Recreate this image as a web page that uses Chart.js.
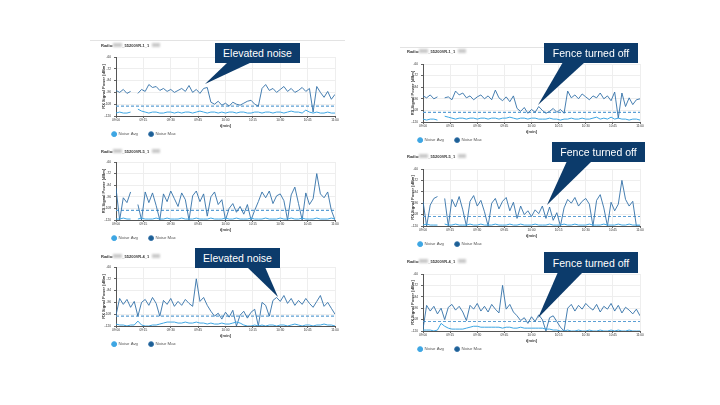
<!DOCTYPE html>
<html>
<head>
<meta charset="utf-8">
<script src="https://cdn.jsdelivr.net/npm/chart.js@4.4.1/dist/chart.umd.min.js"></script>
<style>
  body { margin: 0; width: 720px; height: 405px; background: #fff; position: relative; overflow: hidden; font-family: 'Liberation Sans', Arial, sans-serif; }
  canvas { position: absolute; }
  .topline { position: absolute; height: 0; border-top: 1px solid #e3e3e3; }
  .blur { position: absolute; height: 4px; background: #c9c9c9; filter: blur(0.8px); }
  .callout { position: absolute; background: #0c3b6b; color: #fff; font-size: 10.5px; display: flex; align-items: center; justify-content: center; z-index: 3; }
  svg.pointers { position: absolute; left: 0; top: 0; z-index: 2; }
</style>
</head>
<body>
<div class="topline" style="left:90px;top:40px;width:255px"></div>
<div class="topline" style="left:400px;top:47px;width:238px"></div>
<svg class="pointers" width="720" height="405"></svg>

<script>
// время замеров, минуты от 09:00
const minutes = [
  0, 2, 4, 6, 8, 10, 12, 14, 16, 18,
  20, 22, 24, 26, 28, 30, 32, 34, 36, 38,
  40, 42, 44, 46, 48, 50, 52, 54, 56, 58,
  60, 62, 64, 66, 68, 70, 72, 74, 76, 78,
  80, 82, 84, 86, 88, 90, 92, 94, 96, 98,
  100, 102, 104, 106, 108, 110, 112, 114, 116, 118,
  120,
];
const timeLabels = ['09:00', '09:15', '09:30', '09:45', '10:00', '10:15', '10:30', '10:45', '11:00'];
const seriesNames = ['Noise Avg', 'Noise Max'];
const noiseLimit = -110;

// левая колонка
const maxA = [
  -94, -96, -93, -97, -95, null, -97, -93, -95, -88,
  -91, -90, -94, -92, -95, -93, -96, -94, -92, -95,
  -89, -96, -93, -97, -92, -91, -106, -108, -105, -109,
  -107, -110, -106, -108, -109, -107, -105, -104, -108, -110,
  -92, -88, -94, -92, -96, -93, -90, -95, -92, -96,
  -94, -91, -95, -92, -116, -90, -96, -101, -95, -103,
  -98,
];
const avgA = [
  -117, -116, -117, -117, -116, null, -113, -115, -116, -117,
  -116, -116, -117, -117, -116, -116, -117, -116, -117, -116,
  -116, -117, -116, -115, -116, -117, -116, -116, -117, -116,
  -117, -116, -116, -117, -116, -116, -117, -117, -116, -116,
  -117, -116, -116, -117, -116, -116, -117, -116, -115, -116,
  -116, -117, -114, -116, -117, -116, -117, -117, -116, -117,
  -117,
];
const maxB = [
  -87, -120, -97, -102, -91, null, -104, -120, -91, -102,
  -92, -105, -120, -93, -101, -90, -98, -106, -92, -99,
  -120, -95, -90, -101, -93, -116, -96, -91, -104, -99,
  -120, -108, -103, -112, -106, -114, -104, -120, -110, -101,
  -91, -97, -90, -103, -95, -93, -100, -120, -94, -86,
  -103, -120, -92, -104, -98, -72, -93, -97, -91, -110,
  -120,
];
const avgB = [
  -119, -119, -118, -119, -119, null, -119, -118, -119, -119,
  -119, -118, -119, -119, -118, -119, -119, -119, -118, -119,
  -119, -119, -118, -119, -119, -119, -118, -119, -119, -119,
  -118, -119, -119, -118, -119, -119, -119, -118, -119, -119,
  -119, -118, -119, -119, -119, -118, -119, -119, -118, -119,
  -119, -118, -119, -119, -119, -118, -119, -119, -119, -118,
  -119,
];
const maxC = [
  -109, -92, -98, -93, -101, -95, -110, -96, -93, -99,
  -91, -97, -110, -94, -98, -92, -100, -95, -99, -93,
  -97, -100, -72, -95, -91, -99, -105, -110, -107, -113,
  -106, -111, -104, -120, -109, -105, -112, -106, -103, -120,
  -96, -99, -110, -94, -91, -95, -89, -97, -92, -99,
  -94, -98, -92, -97, -101, -95, -89, -100, -96, -102,
  -108,
];
const avgC = [
  -118, -119, -119, -120, -119, -119, -115, -119, -120, -120,
  -119, -119, -118, -117, -116, -116, -116, -117, -117, -116,
  -117, -117, -116, -117, -117, -118, -117, -118, -118, -117,
  -118, -118, -117, -116, -117, -119, -120, -120, -119, -120,
  -119, -120, -119, -119, -120, -119, -119, -120, -119, -118,
  -119, -120, -119, -119, -120, -119, -119, -118, -119, -119,
  -120,
];

// правая колонка
const maxD = [
  -93, -95, -92, -96, -94, null, -95, -94, -97, -88,
  -92, -90, -95, -93, -97, -94, -92, -96, -93, -97,
  -87, -95, -98, -94, -99, -93, -106, -109, -105, -111,
  -107, -110, -104, -108, -111, -109, -106, -110, -107, -111,
  -88, -95, -92, -96, -91, -94, -97, -93, -95, -90,
  -96, -93, -98, -89, -116, -90, -104, -95, -102, -97,
  -96,
];
const avgD = [
  -117, -118, -117, -117, -118, null, -114, -115, -116, -117,
  -116, -116, -117, -116, -116, -117, -116, -116, -117, -116,
  -116, -117, -116, -116, -115, -116, -117, -116, -116, -117,
  -116, -116, -117, -117, -117, -116, -117, -117, -118, -117,
  -117, -116, -117, -117, -116, -117, -117, -116, -115, -117,
  -116, -117, -115, -117, -116, -117, -117, -118, -117, -117,
  -118,
];
const maxE = [
  -94, -120, -98, -91, -89, null, -91, -120, -92, -100,
  -89, -103, -120, -94, -88, -99, -93, -105, -120, -96,
  -91, -102, -94, -90, -104, -95, -112, -99, -108, -104,
  -110, -103, -107, -99, -112, -100, -114, -106, -120, -101,
  -92, -96, -90, -99, -94, -91, -97, -120, -93, -87,
  -101, -120, -95, -104, -97, -72, -92, -99, -94, -120,
  -120,
];
const avgE = [
  -119, -118, -119, -119, -119, null, -118, -119, -119, -118,
  -119, -119, -119, -118, -119, -119, -118, -119, -119, -119,
  -118, -119, -119, -119, -118, -119, -119, -118, -119, -119,
  -119, -118, -119, -119, -119, -118, -119, -119, -119, -118,
  -119, -119, -118, -119, -119, -119, -118, -119, -119, -119,
  -118, -119, -119, -119, -118, -119, -119, -118, -119, -119,
  -119,
];
const maxF = [
  -118, -93, -99, -94, -102, -96, -108, -95, -92, -98,
  -94, -100, -109, -93, -97, -91, -99, -94, -100, -92,
  -97, -101, -72, -97, -92, -100, -104, -109, -106, -112,
  -105, -110, -103, -108, -120, -106, -104, -110, -116, -120,
  -96, -92, -99, -93, -97, -91, -95, -98, -92, -100,
  -94, -97, -91, -99, -93, -101, -95, -98, -102, -97,
  -104,
];
const avgF = [
  -119, -119, -119, -120, -119, -112, -115, -117, -118, -118,
  -118, -118, -117, -116, -115, -115, -116, -116, -116, -116,
  -116, -116, -117, -116, -116, -117, -117, -116, -117, -117,
  -117, -117, -117, -117, -118, -118, -119, -119, -120, -120,
  -119, -120, -120, -119, -120, -120, -119, -120, -120, -119,
  -120, -120, -119, -120, -119, -120, -120, -119, -120, -120,
  -120,
];

const FONT = "'Liberation Sans', Arial, sans-serif";
const LEGEND_H = 4.3 + 11 + 10;
const X_AXIS_H = 5;

const charts = [
  { radio: '_55200VR-1_1', max: maxA, avg: avgA, x0: 116, x1: 335, y0: 57, y1: 116, radioX: 101, radioY: 45, yTitlePad: 0 },
  { radio: '_55200VR-5_1', max: maxB, avg: avgB, x0: 116, x1: 335, y0: 162, y1: 220, radioX: 101, radioY: 151, yTitlePad: 0 },
  { radio: '_55200VR-4_1', max: maxC, avg: avgC, x0: 116, x1: 335, y0: 267, y1: 326, radioX: 101, radioY: 256, yTitlePad: 0 },
  { radio: '_55200VR-1_1', max: maxD, avg: avgD, x0: 423, x1: 640, y0: 64, y1: 122, radioX: 407, radioY: 51, yTitlePad: 3 },
  { radio: '_55200VR-5_1', max: maxE, avg: avgE, x0: 423, x1: 640, y0: 169, y1: 226, radioX: 407, radioY: 156, yTitlePad: 3 },
  { radio: '_55200VR-4_1', max: maxF, avg: avgF, x0: 423, x1: 640, y0: 274, y1: 331, radioX: 407, radioY: 261, yTitlePad: 3 },
];

const callouts = [
  { text: 'Elevated noise', left: 215, top: 43, width: 85, height: 20, tip: [[228, 62], [252, 62], [205, 84]] },
  { text: 'Fence turned off', left: 544, top: 43, width: 94, height: 20, tip: [[563, 62], [585, 62], [538, 105]] },
  { text: 'Fence turned off', left: 552, top: 142, width: 93, height: 20, tip: [[567, 161], [592, 161], [547, 205]] },
  { text: 'Elevated noise', left: 195, top: 248, width: 85, height: 20, tip: [[247, 267], [265, 267], [278, 297]] },
  { text: 'Fence turned off', left: 544, top: 252, width: 94, height: 21, tip: [[558, 272], [583, 272], [538, 318]] },
];

function toPoints(values) {
  return minutes.map((m, i) => ({ x: m, y: values[i] }));
}

function createChart(p) {
  const left = p.radioX;
  const top = Math.round(p.radioY - 2.4);
  const width = p.x1 + 14 - left;
  const rawHeight = p.y1 - top + X_AXIS_H + LEGEND_H;
  const height = Math.ceil(rawHeight);

  const canvas = document.createElement('canvas');
  canvas.width = width;
  canvas.height = height;
  canvas.style.left = left + 'px';
  canvas.style.top = top + 'px';
  document.body.appendChild(canvas);

  // серые "замазанные" куски имени радио
  [[12, 9], [51, 8]].forEach(([dx, w]) => {
    const b = document.createElement('div');
    b.className = 'blur';
    b.style.left = (left + dx) + 'px';
    b.style.top = (p.radioY - 2) + 'px';
    b.style.width = w + 'px';
    document.body.appendChild(b);
  });

  const tickFont = { family: FONT, size: 3.2 };
  const titleFont = { family: FONT, size: 4, weight: 'bold' };

  new Chart(canvas.getContext('2d'), {
    type: 'line',
    data: {
      datasets: [
        {
          label: seriesNames[0],
          data: toPoints(p.avg),
          borderColor: '#3ea6e3',
          backgroundColor: '#3ea6e3',
          borderWidth: 1,
        },
        {
          label: seriesNames[1],
          data: toPoints(p.max),
          borderColor: '#3271a8',
          backgroundColor: '#1d5f94',
          borderWidth: 0.9,
        },
        {
          label: 'limit',
          data: [{ x: minutes[0], y: noiseLimit }, { x: minutes[minutes.length - 1], y: noiseLimit }],
          borderColor: '#5c9fd4',
          borderWidth: 1.2,
          borderDash: [3, 2],
        },
      ],
    },
    options: {
      responsive: false,
      animation: false,
      devicePixelRatio: 1,
      layout: { padding: { left: 0, right: 0, top: 0, bottom: height - rawHeight } },
      elements: { point: { radius: 0 }, line: { tension: 0, fill: false } },
      plugins: {
        title: {
          display: true,
          text: 'Radio:        ' + p.radio,
          align: 'start',
          color: '#333',
          font: titleFont,
          padding: { top: 0, bottom: p.y0 - top - 4.8 },
        },
        legend: {
          position: 'bottom',
          align: 'start',
          labels: {
            usePointStyle: true,
            pointStyle: 'circle',
            boxWidth: 5,
            boxHeight: 3.5,
            padding: 11,
            color: '#555',
            font: { family: FONT, size: 4.3 },
            filter: item => item.datasetIndex < 2,
          },
        },
        tooltip: { enabled: false },
      },
      scales: {
        x: {
          type: 'linear',
          min: 0,
          max: 120,
          ticks: {
            stepSize: 15,
            autoSkip: false,
            maxRotation: 0,
            padding: 0,
            color: '#333',
            font: tickFont,
            callback: v => timeLabels[v / 15],
          },
          grid: { color: '#eeeeee', tickLength: 2, tickColor: '#666' },
          border: { color: '#555' },
          title: { display: true, text: 't[min]', color: '#333', font: titleFont, padding: { top: 0, bottom: -7.4 } },
          afterFit: scale => { scale.height = X_AXIS_H; },
        },
        y: {
          min: -120,
          max: -60,
          ticks: { stepSize: 6, padding: 3, color: '#333', font: tickFont },
          grid: { color: '#eeeeee', tickLength: 2, tickColor: '#666' },
          border: { color: '#555' },
          title: { display: true, text: 'RX Signal Power [dBm]', color: '#333', font: titleFont, padding: { top: p.yTitlePad, bottom: 0 } },
          afterFit: scale => { scale.width = p.x0 - left; },
        },
        y2: {
          position: 'right',
          min: 0,
          max: 10,
          ticks: { stepSize: 1, padding: 8, color: '#999', font: { family: FONT, size: 4 }, autoSkip: false, callback: v => (v <= 4 ? '-' : '') },
          grid: { display: false },
          border: { display: false },
          afterFit: scale => { scale.width = 14; },
        },
      },
    },
  });
}

charts.forEach(createChart);

// выноски
const svg = document.querySelector('svg.pointers');
callouts.forEach(c => {
  const box = document.createElement('div');
  box.className = 'callout';
  box.style.left = c.left + 'px';
  box.style.top = c.top + 'px';
  box.style.width = c.width + 'px';
  box.style.height = c.height + 'px';
  box.textContent = c.text;
  document.body.appendChild(box);

  const tri = document.createElementNS('http://www.w3.org/2000/svg', 'polygon');
  tri.setAttribute('points', c.tip.map(pt => pt.join(',')).join(' '));
  tri.setAttribute('fill', '#0c3b6b');
  svg.appendChild(tri);
});
</script>
</body>
</html>
